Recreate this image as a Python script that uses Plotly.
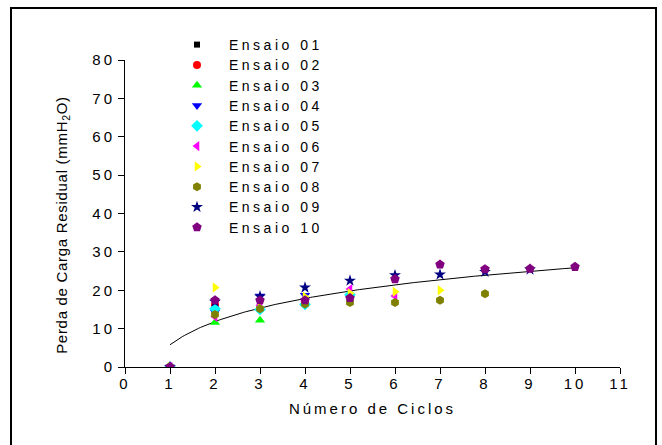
import numpy as np
import plotly.graph_objects as go

# ---- data ----
series_names = ["Ensaio 01", "Ensaio 02", "Ensaio 03", "Ensaio 04", "Ensaio 05",
                "Ensaio 06", "Ensaio 07", "Ensaio 08", "Ensaio 09", "Ensaio 10"]
ciclos = [1, 2, 3, 4, 5, 6, 7, 8, 9, 10]
ensaio01 = [0.0]
ensaio02 = [0.0, 16.2]
ensaio03 = [0.0, 11.6, 12.2]
ensaio04 = [0.0, 14.3, 18.5, 18.7]
ensaio05 = [0.0, 15.2, 15.0, 16.3, 18.8]
ensaio06 = [0.0, 13.1, 16.1, 17.0, 20.3, 18.5]
ensaio07 = [0.0, 20.7, 17.1, 18.3, 19.2, 19.6, 20.0]
ensaio08 = [0.0, 13.7, 15.2, 16.4, 16.8, 16.8, 17.4, 19.1]
ensaio09 = [0.0, 17.0, 18.4, 20.7, 22.5, 23.9, 24.1, 24.8, 25.4]
ensaio10 = [0.0, 17.4, 17.4, 17.4, 18.0, 22.9, 26.7, 25.5, 25.6, 26.1]
all_series = [ensaio01, ensaio02, ensaio03, ensaio04, ensaio05,
              ensaio06, ensaio07, ensaio08, ensaio09, ensaio10]

# logarithmic fit y = a + b*ln(x), coefficients
fit_a = 5.8
fit_b = 8.71
fit_x_min, fit_x_max = 1, 10

x_ticks = list(range(0, 12))
y_ticks = list(range(0, 90, 10))

x_title = "Número de Ciclos"
y_title = "Perda de Carga Residual (mmH<sub>2</sub>O)"

# ---- styles ----
colors = ["#000000", "#ff0000", "#00ff00", "#0000ff", "#00ffff",
          "#ff00ff", "#ffff00", "#808000", "#000080", "#800080"]
symbols = ["square", "circle", "triangle-up", "triangle-down", "diamond",
           "triangle-left", "triangle-right", "hexagon", "star", "pentagon"]
sizes = [6, 8, 9, 9, 9, 9, 9, 9, 9, 10]

FONT = "Arial, 'Liberation Sans', sans-serif"

fig = go.Figure()

fx = np.linspace(fit_x_min, fit_x_max, 200)
fig.add_trace(go.Scatter(x=fx, y=fit_a + fit_b * np.log(fx), mode="lines",
                         line=dict(color="black", width=1), showlegend=False,
                         hoverinfo="skip"))

for name, vals, c, s, sz in zip(series_names, all_series, colors, symbols, sizes):
    fig.add_trace(go.Scatter(
        x=ciclos[:len(vals)], y=vals, mode="markers", name=name,
        marker=dict(symbol=s, color=c, size=sz, line=dict(width=0)),
    ))

W, H = 662, 445
L, R, T, B = 125, 42, 60, 78
pw, ph = W - L - R, H - T - B


def px_x(p):
    return (p - L) / pw


def px_y(p):
    return (H - B - p) / ph


fig.update_layout(
    width=W, height=H,
    margin=dict(l=L, r=R, t=T, b=B, pad=0),
    paper_bgcolor="white", plot_bgcolor="white",
    font=dict(family=FONT, size=15, color="black"),
    showlegend=True,
    legend=dict(x=px_x(165), y=px_y(29), xanchor="left", yanchor="top",
                bgcolor="rgba(0,0,0,0)", borderwidth=0,
                font=dict(family=FONT, size=14, color="black"),
                itemwidth=54, tracegroupgap=0),
    xaxis=dict(range=[0, 11], tickmode="array", tickvals=x_ticks,
               ticktext=[str(v) for v in x_ticks],
               showline=True, linecolor="black", linewidth=1,
               ticks="outside", ticklen=6, tickcolor="black", tickwidth=1,
               ticklabelstandoff=-3,
               showgrid=False, zeroline=False, fixedrange=True,
               tickfont=dict(family=FONT, size=15),
               title=dict(text=x_title, standoff=12,
                          font=dict(family=FONT, size=15))),
    yaxis=dict(range=[0, 80], tickmode="array", tickvals=y_ticks,
               ticktext=[str(v) for v in y_ticks],
               showline=True, linecolor="black", linewidth=1,
               ticks="outside", ticklen=6, tickcolor="black", tickwidth=1,
               showgrid=False, zeroline=False, fixedrange=True,
               tickfont=dict(family=FONT, size=15)),
    annotations=[dict(text=y_title, textangle=-90, xref="paper", yref="paper",
                      x=px_x(62), y=px_y(225), xanchor="center", yanchor="middle",
                      showarrow=False, font=dict(family=FONT, size=15))],
    shapes=[dict(type="rect", xref="paper", yref="paper",
                 x0=px_x(11), x1=px_x(656), y0=px_y(460), y1=px_y(8),
                 line=dict(color="black", width=2), fillcolor="rgba(0,0,0,0)",
                 layer="above")],
)

post = """
var gd = document.getElementById('{plot_id}');
function ls(){
  gd.querySelectorAll('.xtick text, .ytick text, .g-xtitle text').forEach(function(e){
    e.style.letterSpacing = '3px';
  });
  gd.querySelectorAll('.legendtext').forEach(function(e){
    e.style.letterSpacing = '3.5px';
  });
  gd.querySelectorAll('.annotation-text').forEach(function(e){
    e.style.letterSpacing = '0.7px';
  });
  gd.querySelectorAll('.legend [clip-path]').forEach(function(e){
    e.removeAttribute('clip-path');
  });
  var items = gd.querySelectorAll('.legend .traces');
  var y0 = null;
  items.forEach(function(e, i){
    var t = e.getAttribute('transform') || '';
    var m = t.match(/translate\\(([-\\d.]+)[ ,]+([-\\d.]+)\\)/);
    if (!m) return;
    if (y0 === null) y0 = parseFloat(m[2]);
    e.setAttribute('transform', 'translate(' + m[1] + ',' + (y0 + i * 20.3) + ')');
  });
}
ls();
if (gd.on) { gd.on('plotly_afterplot', ls); }
"""

fig.write_html("out.html", post_script=post, config={"displayModeBar": False})
